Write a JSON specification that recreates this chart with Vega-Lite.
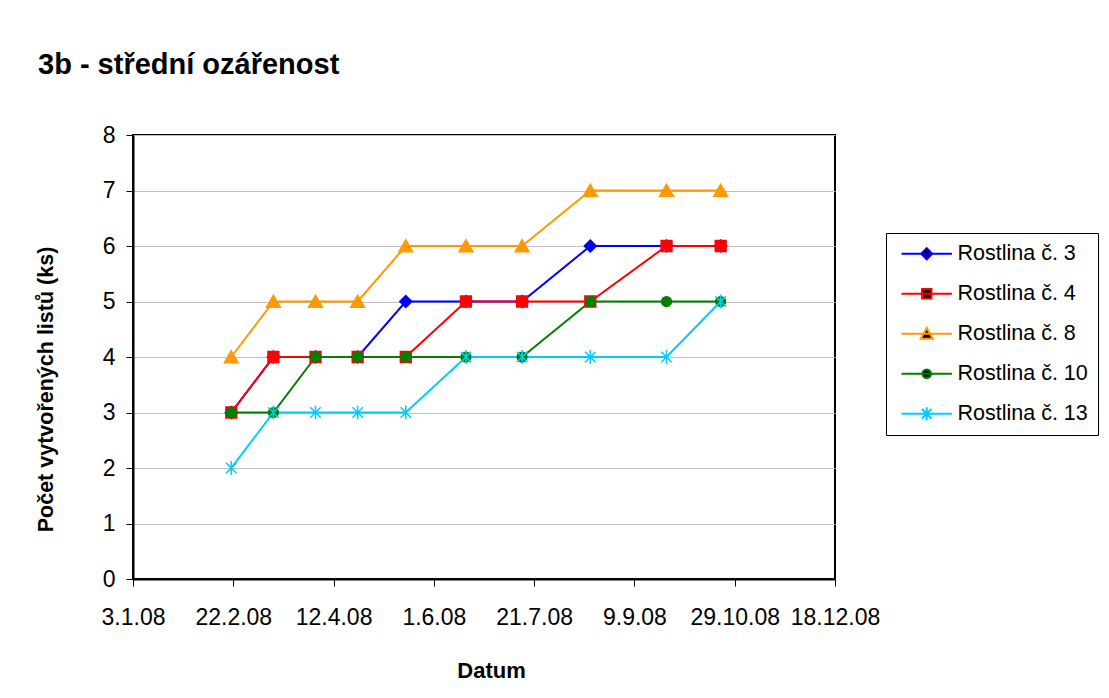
{
  "$schema": "https://vega.github.io/schema/vega-lite/v6.json",
  "width": 702,
  "height": 444,
  "autosize": {"type": "none"},
  "padding": {"left": 133, "top": 135, "right": 274, "bottom": 119},
  "background": "white",
  "config": {
    "font": "Liberation Sans",
    "view": {"stroke": "black", "strokeWidth": 2},
    "axis": {
      "domainColor": "black",
      "domainWidth": 2,
      "tickColor": "black",
      "tickWidth": 1,
      "tickSize": 7,
      "labelColor": "black",
      "labelFont": "Liberation Sans",
      "labelFontSize": 23,
      "titleFont": "Liberation Sans",
      "titleFontSize": 22,
      "titleFontWeight": "bold",
      "titleColor": "black"
    }
  },
  "title": {
    "text": "3b - střední ozářenost",
    "anchor": "start",
    "frame": "group",
    "font": "Liberation Sans",
    "fontSize": 29,
    "fontWeight": "bold",
    "color": "black",
    "baseline": "alphabetic",
    "dx": -95,
    "offset": 21
  },
  "data": {
    "values": [
      {"series": "Rostlina č. 3", "date": "2008-02-21", "value": 3},
      {"series": "Rostlina č. 3", "date": "2008-03-13", "value": 4},
      {"series": "Rostlina č. 3", "date": "2008-04-03", "value": 4},
      {"series": "Rostlina č. 3", "date": "2008-04-24", "value": 4},
      {"series": "Rostlina č. 3", "date": "2008-05-18", "value": 5},
      {"series": "Rostlina č. 3", "date": "2008-06-17", "value": 5},
      {"series": "Rostlina č. 3", "date": "2008-07-15", "value": 5},
      {"series": "Rostlina č. 3", "date": "2008-08-18", "value": 6},
      {"series": "Rostlina č. 3", "date": "2008-09-25", "value": 6},
      {"series": "Rostlina č. 3", "date": "2008-10-22", "value": 6},
      {"series": "Rostlina č. 4", "date": "2008-02-21", "value": 3},
      {"series": "Rostlina č. 4", "date": "2008-03-13", "value": 4},
      {"series": "Rostlina č. 4", "date": "2008-04-03", "value": 4},
      {"series": "Rostlina č. 4", "date": "2008-04-24", "value": 4},
      {"series": "Rostlina č. 4", "date": "2008-05-18", "value": 4},
      {"series": "Rostlina č. 4", "date": "2008-06-17", "value": 5},
      {"series": "Rostlina č. 4", "date": "2008-07-15", "value": 5},
      {"series": "Rostlina č. 4", "date": "2008-08-18", "value": 5},
      {"series": "Rostlina č. 4", "date": "2008-09-25", "value": 6},
      {"series": "Rostlina č. 4", "date": "2008-10-22", "value": 6},
      {"series": "Rostlina č. 8", "date": "2008-02-21", "value": 4},
      {"series": "Rostlina č. 8", "date": "2008-03-13", "value": 5},
      {"series": "Rostlina č. 8", "date": "2008-04-03", "value": 5},
      {"series": "Rostlina č. 8", "date": "2008-04-24", "value": 5},
      {"series": "Rostlina č. 8", "date": "2008-05-18", "value": 6},
      {"series": "Rostlina č. 8", "date": "2008-06-17", "value": 6},
      {"series": "Rostlina č. 8", "date": "2008-07-15", "value": 6},
      {"series": "Rostlina č. 8", "date": "2008-08-18", "value": 7},
      {"series": "Rostlina č. 8", "date": "2008-09-25", "value": 7},
      {"series": "Rostlina č. 8", "date": "2008-10-22", "value": 7},
      {"series": "Rostlina č. 10", "date": "2008-02-21", "value": 3},
      {"series": "Rostlina č. 10", "date": "2008-03-13", "value": 3},
      {"series": "Rostlina č. 10", "date": "2008-04-03", "value": 4},
      {"series": "Rostlina č. 10", "date": "2008-04-24", "value": 4},
      {"series": "Rostlina č. 10", "date": "2008-05-18", "value": 4},
      {"series": "Rostlina č. 10", "date": "2008-06-17", "value": 4},
      {"series": "Rostlina č. 10", "date": "2008-07-15", "value": 4},
      {"series": "Rostlina č. 10", "date": "2008-08-18", "value": 5},
      {"series": "Rostlina č. 10", "date": "2008-09-25", "value": 5},
      {"series": "Rostlina č. 10", "date": "2008-10-22", "value": 5},
      {"series": "Rostlina č. 13", "date": "2008-02-21", "value": 2},
      {"series": "Rostlina č. 13", "date": "2008-03-13", "value": 3},
      {"series": "Rostlina č. 13", "date": "2008-04-03", "value": 3},
      {"series": "Rostlina č. 13", "date": "2008-04-24", "value": 3},
      {"series": "Rostlina č. 13", "date": "2008-05-18", "value": 3},
      {"series": "Rostlina č. 13", "date": "2008-06-17", "value": 4},
      {"series": "Rostlina č. 13", "date": "2008-07-15", "value": 4},
      {"series": "Rostlina č. 13", "date": "2008-08-18", "value": 4},
      {"series": "Rostlina č. 13", "date": "2008-09-25", "value": 4},
      {"series": "Rostlina č. 13", "date": "2008-10-22", "value": 5}
    ]
  },
  "encoding": {
    "x": {
      "field": "date",
      "type": "temporal",
      "scale": {
        "type": "utc",
        "domain": [
          {"year": 2008, "month": 1, "date": 3, "utc": true},
          {"year": 2008, "month": 12, "date": 18, "utc": true}
        ]
      },
      "axis": {
        "values": [
          {"year": 2008, "month": 1, "date": 3, "utc": true},
          {"year": 2008, "month": 2, "date": 22, "utc": true},
          {"year": 2008, "month": 4, "date": 12, "utc": true},
          {"year": 2008, "month": 6, "date": 1, "utc": true},
          {"year": 2008, "month": 7, "date": 21, "utc": true},
          {"year": 2008, "month": 9, "date": 9, "utc": true},
          {"year": 2008, "month": 10, "date": 29, "utc": true},
          {"year": 2008, "month": 12, "date": 18, "utc": true}
        ],
        "format": "%-d.%-m.%y",
        "grid": false,
        "labelPadding": 20,
        "labelOverlap": false,
        "labelFlush": false,
        "title": "Datum",
        "titleX": 358,
        "titleY": 98,
        "titleAlign": "center",
        "titleBaseline": "alphabetic"
      }
    },
    "y": {
      "field": "value",
      "type": "quantitative",
      "scale": {"domain": [0, 8], "nice": false},
      "axis": {
        "values": [0, 1, 2, 3, 4, 5, 6, 7, 8],
        "grid": true,
        "gridColor": "#c0c0c0",
        "gridWidth": 1,
        "labelPadding": 11,
        "title": "Počet vytvořených listů (ks)",
        "titleAngle": -90,
        "titleX": -81,
        "titleY": 254,
        "titleFontSize": 21.5,
        "titleAlign": "center",
        "titleBaseline": "alphabetic"
      }
    }
  },
  "layer": [
    {
      "mark": {"type": "line", "strokeWidth": 2},
      "encoding": {
        "color": {
          "field": "series",
          "type": "nominal",
          "scale": {
            "domain": ["Rostlina č. 3", "Rostlina č. 4", "Rostlina č. 8", "Rostlina č. 10", "Rostlina č. 13"],
            "range": ["#0000ff", "#ff0000", "#ff9900", "#008000", "#00ccff"]
          },
          "legend": null
        }
      }
    },
    {
      "mark": {"type": "point", "filled": true, "size": 225, "strokeWidth": 1.5, "opacity": 1},
      "encoding": {
        "color": {
          "field": "series",
          "type": "nominal",
          "scale": {
            "domain": ["Rostlina č. 3", "Rostlina č. 4", "Rostlina č. 8", "Rostlina č. 10", "Rostlina č. 13"],
            "range": ["#0000ff", "#ff0000", "#ff9900", "#008000", "#00ccff"]
          },
          "legend": null
        },
        "stroke": {
          "field": "series",
          "type": "nominal",
          "scale": {
            "domain": ["Rostlina č. 3", "Rostlina č. 4", "Rostlina č. 8", "Rostlina č. 10", "Rostlina č. 13"],
            "range": ["#0000ff", "#ff0000", "#ff9900", "#008000", "#00ccff"]
          },
          "legend": null
        },
        "shape": {
          "field": "series",
          "type": "nominal",
          "scale": {
            "domain": ["Rostlina č. 3", "Rostlina č. 4", "Rostlina č. 8", "Rostlina č. 10", "Rostlina č. 13"],
            "range": [
              "M0,-0.8L0.8,0L0,0.8L-0.8,0Z",
              "M-0.72,-0.72H0.72V0.72H-0.72Z",
              "M0,-0.82L0.92,0.78L-0.92,0.78Z",
              "M0.65,0A0.65,0.65 0 1,1 -0.65,0A0.65,0.65 0 1,1 0.65,0Z",
              "M-0.7,-0.7L0.7,0.7M-0.7,0.7L0.7,-0.7M0,-0.92V0.92"
            ]
          },
          "legend": null
        }
      }
    },
    {
      "transform": [{"filter": "datum.value > 100"}],
      "mark": {"type": "point", "filled": true, "size": 144, "strokeWidth": 2, "opacity": 1},
      "encoding": {
        "fill": {
          "field": "series",
          "type": "nominal",
          "scale": {
            "domain": ["Rostlina č. 3", "Rostlina č. 4", "Rostlina č. 8", "Rostlina č. 10", "Rostlina č. 13"],
            "range": ["#0000ff", "#ff0000", "#ff9900", "#008000", "#00ccff"]
          },
          "legend": {"title": null}
        },
        "stroke": {
          "field": "series",
          "type": "nominal",
          "scale": {
            "domain": ["Rostlina č. 3", "Rostlina č. 4", "Rostlina č. 8", "Rostlina č. 10", "Rostlina č. 13"],
            "range": ["#0000ff", "#ff0000", "#ff9900", "#008000", "#00ccff"]
          },
          "legend": {"title": null}
        },
        "shape": {
          "field": "series",
          "type": "nominal",
          "scale": {
            "domain": ["Rostlina č. 3", "Rostlina č. 4", "Rostlina č. 8", "Rostlina č. 10", "Rostlina č. 13"],
            "range": [
              "M-4.2,0H4.2M0,-0.92L0.92,0L0,0.92L-0.92,0Z",
              "M-4.2,0H4.2M-0.78,-0.78H0.78V0.78H-0.78Z",
              "M-4.2,0H4.2M0,-0.95L1,0.85L-1,0.85Z",
              "M-4.2,0H4.2M0.72,0A0.72,0.72 0 1,1 -0.72,0A0.72,0.72 0 1,1 0.72,0Z",
              "M-4.2,0H4.2M-0.8,-0.8L0.8,0.8M-0.8,0.8L0.8,-0.8M0,-1.08V1.08"
            ]
          },
          "legend": {
            "title": null,
            "orient": "none",
            "legendX": 753,
            "legendY": 98,
            "strokeColor": "black",
            "fillColor": "white",
            "padding": 10,
            "symbolSize": 144,
            "symbolStrokeWidth": 2,
            "symbolOpacity": 1,
            "symbolOffset": 20,
            "labelFont": "Liberation Sans",
            "labelFontSize": 21.5,
            "labelColor": "black",
            "labelOffset": 20,
            "rowPadding": 17,
            "labelLimit": 300
          }
        }
      }
    }
  ],
  "resolve": {"scale": {"shape": "independent", "stroke": "independent"}}
}
